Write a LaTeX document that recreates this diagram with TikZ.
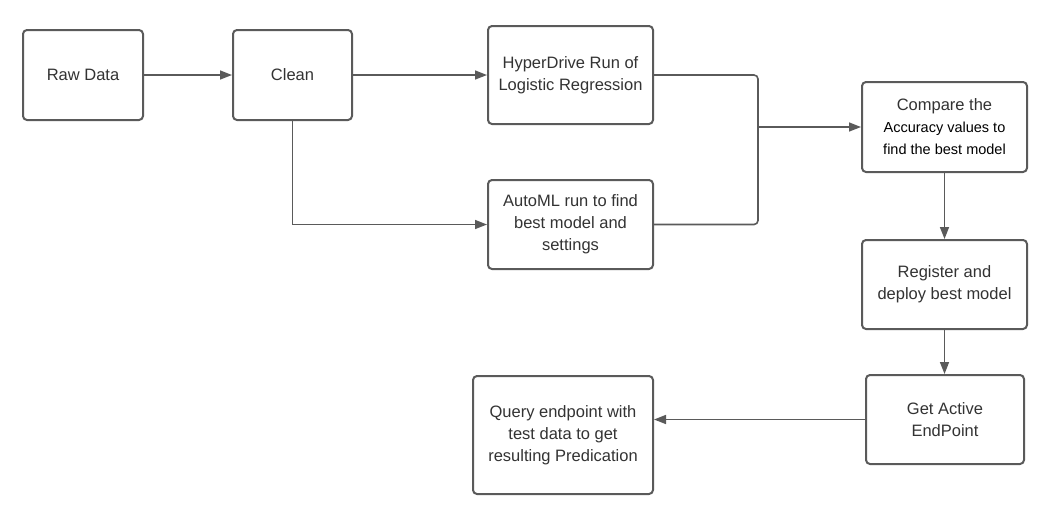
\documentclass[tikz,border=0pt]{standalone}
\usepackage{fontspec}
\setmainfont{Liberation Sans}
\usetikzlibrary{arrows.meta}
\definecolor{boxline}{HTML}{5A5A5A}
\definecolor{txt}{HTML}{333333}
\begin{document}
\begin{tikzpicture}[x=1pt,y=-1pt,
  box/.style={draw=boxline,line width=2pt,rounded corners=4pt,fill=white,align=center,
    font=\fontsize{16.5}{22}\selectfont,text=txt,inner sep=0pt},
  conn/.style={draw=boxline,line width=1.6pt,-{Triangle[length=12pt,width=9pt]}},
  link/.style={draw=boxline,line width=1.6pt,rounded corners=4pt}]
\useasboundingbox (0,0) rectangle (1058,509);
\node[box,minimum width=120pt,minimum height=90pt] (raw) at (83,75) {Raw Data};
\node[box,minimum width=119pt,minimum height=90pt] (clean) at (292.5,75) {Clean};
\node[box,minimum width=165pt,minimum height=98pt] (hyper) at (570.5,75) {HyperDrive Run of\\Logistic Regression};
\node[box,minimum width=165pt,minimum height=89pt] (auto) at (570.5,224.5) {AutoML run to find\\best model and\\settings};
\node[box,minimum width=165pt,minimum height=90pt] (comp) at (944.5,127) {Compare the\\{\fontsize{14.5}{20}\selectfont\color{black}Accuracy values to}\\{\fontsize{14.5}{20}\selectfont\color{black}find the best model}};
\node[box,minimum width=165pt,minimum height=89pt] (reg) at (944.5,284.5) {Register and\\deploy best model};
\node[box,minimum width=158pt,minimum height=89pt] (act) at (945,419.5) {Get Active\\EndPoint};
\node[box,minimum width=180pt,minimum height=118pt] (query) at (563,435) {Query endpoint with\\test data to get\\resulting Predication};
\coordinate (j) at (758,127);
\coordinate (qin) at (query.east |- act.west);
\draw[conn] (raw.east) -- (clean.west);
\draw[conn] (clean.east) -- (hyper.west |- clean.east);
\draw[conn] (clean.south) |- (auto.west);
\draw[link] (hyper.east) -| (j);
\draw[link] (auto.east) -| (j);
\draw[conn] (j) -- (comp.west);
\draw[conn] (comp.south) -- (reg.north);
\draw[conn] (reg.south) -- (reg.south |- act.north);
\draw[conn] (act.west) -- (qin);
\end{tikzpicture}
\end{document}
